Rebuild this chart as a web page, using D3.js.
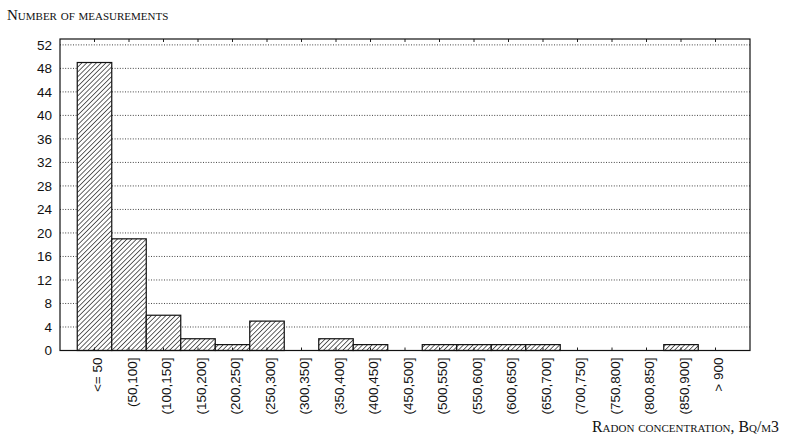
<!DOCTYPE html>
<html>
<head>
<meta charset="utf-8">
<script src="https://cdn.jsdelivr.net/npm/d3@7"></script>
<style>
  html, body { margin: 0; padding: 0; background: #fff; }
  svg { display: block; }
</style>
</head>
<body>
<svg id="chart" width="788" height="439"></svg>
<script>
// Radon concentration classes (Bq/m3) and number of measurements in each
const categories = [
  "<= 50", "(50,100]", "(100,150]", "(150,200]", "(200,250]", "(250,300]",
  "(300,350]", "(350,400]", "(400,450]", "(450,500]", "(500,550]", "(550,600]",
  "(600,650]", "(650,700]", "(700,750]", "(750,800]", "(800,850]", "(850,900]", "> 900"
];
const counts = [49, 19, 6, 2, 1, 5, 0, 2, 1, 0, 1, 1, 1, 1, 0, 0, 0, 1, 0];
const yTicks = [0, 4, 8, 12, 16, 20, 24, 28, 32, 36, 40, 44, 48, 52];
const yTitle = "Number of measurements";
const xTitle = "Radon concentration, Bq/m3";

const svg = d3.select("#chart");
const plot = { left: 60, right: 750, top: 39, bottom: 350.5 };

const x = d3.scaleBand()
  .domain(categories)
  .range([plot.left, plot.right])
  .paddingInner(0)
  .paddingOuter(0.5);

const y = d3.scaleLinear()
  .domain([0, 53])
  .range([plot.bottom, plot.top]);

// diagonal hatch fill for the bars
const defs = svg.append("defs");
const pat = defs.append("pattern")
  .attr("id", "hatch")
  .attr("patternUnits", "userSpaceOnUse")
  .attr("width", 3.4)
  .attr("height", 3.4)
  .attr("patternTransform", "rotate(45)");
pat.append("rect").attr("width", 3.4).attr("height", 3.4).attr("fill", "#fff");
pat.append("line")
  .attr("x1", 0).attr("y1", 0).attr("x2", 0).attr("y2", 3.4)
  .attr("stroke", "#111").attr("stroke-width", 1.3);

// dotted horizontal grid
svg.append("g")
  .selectAll("line")
  .data(yTicks)
  .join("line")
  .attr("x1", plot.left)
  .attr("x2", plot.right)
  .attr("y1", d => y(d))
  .attr("y2", d => y(d))
  .attr("stroke", "#444")
  .attr("stroke-width", 1)
  .attr("stroke-dasharray", "1,1.6");

// bars
svg.append("g")
  .selectAll("rect")
  .data(categories.map((c, i) => ({ c, v: counts[i] })).filter(d => d.v > 0))
  .join("rect")
  .attr("x", d => x(d.c))
  .attr("width", x.bandwidth())
  .attr("y", d => y(d.v))
  .attr("height", d => y(0) - y(d.v))
  .attr("fill", "url(#hatch)")
  .attr("stroke", "#111")
  .attr("stroke-width", 1.2);

// left axis labels
const yAxis = d3.axisLeft(y).tickValues(yTicks).tickSize(0).tickPadding(8);
const gy = svg.append("g")
  .attr("transform", `translate(${plot.left},0)`)
  .call(yAxis);
gy.select(".domain").remove();
gy.selectAll("text")
  .attr("font-family", "Liberation Sans, Arial, sans-serif")
  .attr("font-size", 13.5)
  .attr("fill", "#111");

// bottom axis: inward ticks and rotated class labels
const xAxis = d3.axisBottom(x).tickSize(-3).tickPadding(6);
const gx = svg.append("g")
  .attr("transform", `translate(0,${plot.bottom})`)
  .call(xAxis);
gx.select(".domain").remove();
gx.selectAll(".tick line").attr("stroke", "#222");
gx.selectAll("text")
  .attr("font-family", "Liberation Sans, Arial, sans-serif")
  .attr("font-size", 13.5)
  .attr("fill", "#111")
  .attr("text-anchor", "end")
  .attr("transform", "rotate(-90)")
  .attr("x", -7)
  .attr("y", 3)
  .attr("dy", "0.35em");

// top axis ticks
const gt = svg.append("g")
  .attr("transform", `translate(0,${plot.top})`)
  .call(d3.axisTop(x).tickSize(-3).tickFormat(""));
gt.select(".domain").remove();
gt.selectAll(".tick line").attr("stroke", "#222");

// frame
svg.append("rect")
  .attr("x", plot.left)
  .attr("y", plot.top)
  .attr("width", plot.right - plot.left)
  .attr("height", plot.bottom - plot.top)
  .attr("fill", "none")
  .attr("stroke", "#111")
  .attr("stroke-width", 1.2);

// axis titles in small caps
svg.append("text")
  .attr("x", 7)
  .attr("y", 20)
  .attr("font-family", "Liberation Serif, Times New Roman, serif")
  .attr("font-variant", "small-caps")
  .attr("font-size", 15)
  .attr("fill", "#111")
  .text(yTitle);

svg.append("text")
  .attr("x", 779)
  .attr("y", 432)
  .attr("text-anchor", "end")
  .attr("font-family", "Liberation Serif, Times New Roman, serif")
  .attr("font-variant", "small-caps")
  .attr("font-size", 15.8)
  .attr("fill", "#111")
  .text(xTitle);
</script>
</body>
</html>
